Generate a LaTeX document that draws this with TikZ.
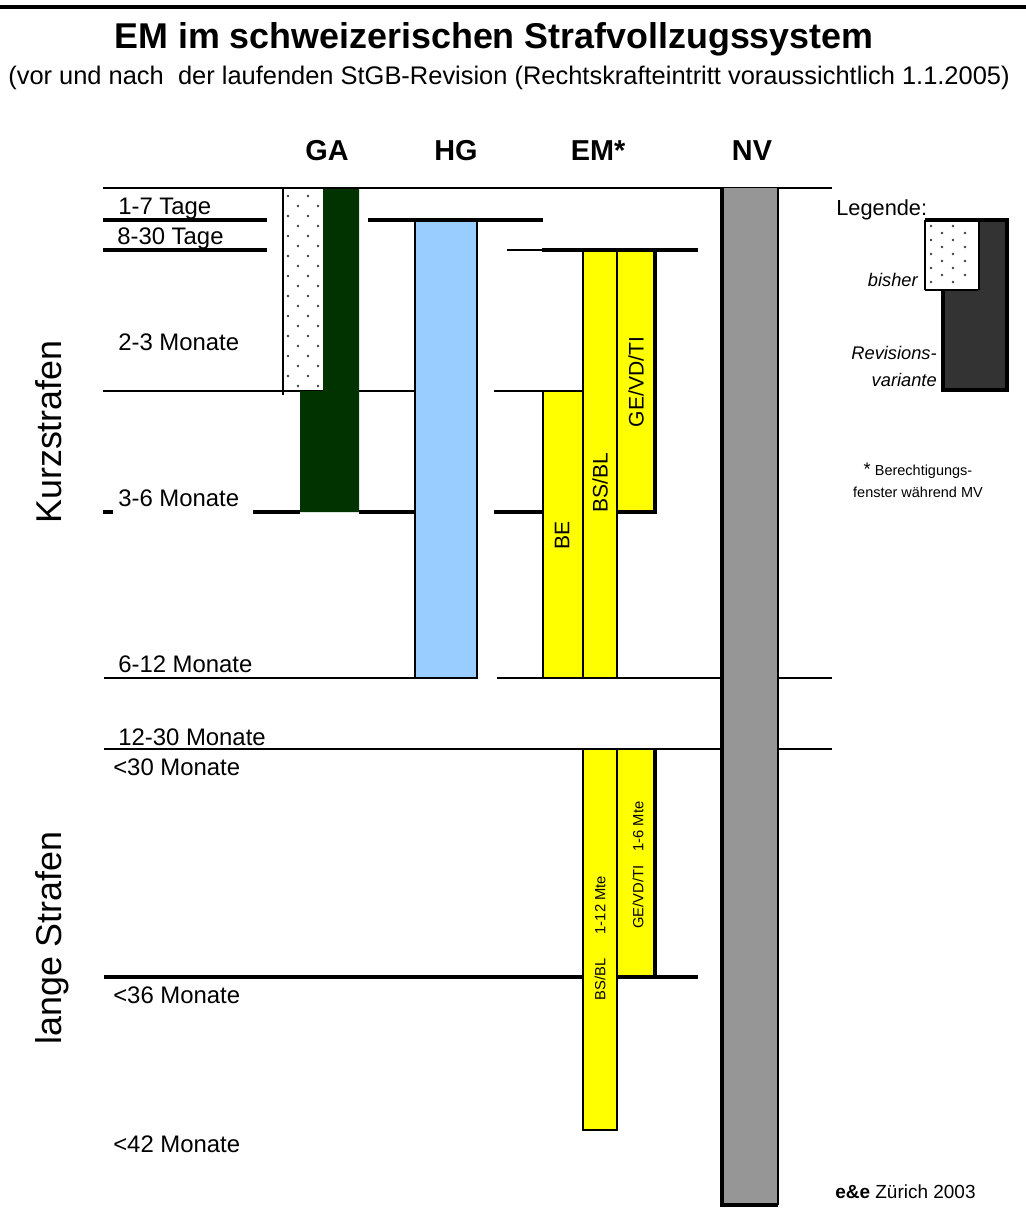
\documentclass[tikz,border=0pt]{standalone}
\usepackage{fontspec}
\setmainfont{Liberation Sans}
\usepackage{xcolor}
\usepackage{tikz}
\definecolor{gagruen}{RGB}{0,51,0}
\definecolor{hgblau}{RGB}{153,204,255}
\definecolor{emgelb}{RGB}{255,255,0}
\definecolor{nvgrau}{RGB}{150,150,150}
\definecolor{legdunkel}{RGB}{51,51,51}
\newcommand{\fsz}[1]{\fontsize{#1}{#1}\selectfont}

\begin{document}
\begin{tikzpicture}[x=0.25mm,y=-0.25mm,
  duenn/.style={line width=1.1pt},
  dick/.style={line width=2.6pt},
  saeule/.style={draw=black,line width=1.2pt},
  lbl/.style={anchor=base west,inner sep=0pt,font=\fsz{17pt}},
  kopf/.style={anchor=base,inner sep=0pt,font=\bfseries\fsz{20.5pt}},
  vert/.style={rotate=90,inner sep=0pt,font=\fsz{15pt}},
  vklein/.style={rotate=90,inner sep=0pt,font=\fsz{10.5pt}},
  leg/.style={anchor=base east,inner sep=0pt,font=\itshape\fsz{13pt}}]
  \useasboundingbox (0,0) rectangle (1026,1214);
  % kopf
  \draw[line width=2.2pt] (0,7)--(1026,7);
  \node[anchor=base,inner sep=0pt,font=\bfseries\fsz{25.5pt}] (titel) at (494,48) {EM im schweizerischen Strafvollzugssystem};
  \node[anchor=base,inner sep=0pt,font=\fsz{18.1pt}] (untertitel) at (509,84) {(vor und nach\ \ der laufenden StGB-Revision (Rechtskrafteintritt voraussichtlich 1.1.2005)};
  \node[kopf] (ga) at (327,160) {GA};
  \node[kopf] (hg) at (456,160) {HG};
  \node[kopf] (em) at (598,160) {EM*};
  \node[kopf] (nv) at (752,160) {NV};
  % GA
  \fill[white] (283,188) rectangle (323,391);
  \foreach \y in {196,216,...,386} {\fill[black!75] (288,\y) circle (1.3); \fill[black!75] (308,\y) circle (1.3);}
  \foreach \y in {206,226,...,386} {\fill[black!75] (298,\y) circle (1.3); \fill[black!75] (318,\y) circle (1.3);}
  \draw[duenn] (283,395)--(283,188) (283,391)--(323,391);
  \fill[gagruen] (323,188)--(359,188)--(359,512)--(300,512)--(300,391)--(323,391)--cycle;
  % HG
  \draw[saeule,fill=hgblau] (415,220) rectangle (477,678);
  % EM oben
  \draw[saeule,fill=emgelb] (543,391) rectangle (583,678);
  \draw[saeule,fill=emgelb] (583,250) rectangle (617,678);
  \draw[saeule,fill=emgelb] (617,250) rectangle (655,512);
  \draw[dick] (617,512)--(655,512)--(655,250);
  \node[vert] (be) at (562,535) {BE};
  \node[vert] (bsbl) at (600,483) {BS/BL};
  \node[vert] (gevdti) at (636,382) {GE/VD/TI};
  % EM unten
  \draw[saeule,fill=emgelb] (583,749) rectangle (617,1130);
  \draw[saeule,fill=emgelb] (617,749) rectangle (655,977);
  \draw[dick] (655,749)--(655,977);
  \node[vklein] (bsbl2) at (600,938) {BS/BL\hspace{6mm}1-12 Mte};
  \node[vklein] (gevdti2) at (638,865) {GE/VD/TI\hspace{3.5mm}1-6 Mte};
  % linien
  \draw[duenn] (103,188)--(832,188);
  \draw[dick] (103,220)--(267,220) (368,220)--(543,220);
  \draw[dick] (103,250)--(267,250) (542,250)--(698,250);
  \draw[duenn] (507,250)--(542,250);
  \draw[duenn] (103,391)--(283,391) (359,391)--(415,391) (494,391)--(583,391);
  \draw[dick] (103,512)--(113,512) (253,512)--(300,512) (359,512)--(415,512) (494,512)--(543,512);
  \draw[duenn] (104,678)--(477,678) (497,678)--(722,678) (778,678)--(832,678);
  \draw[duenn] (104,749)--(832,749);
  \draw[dick] (104,977)--(583,977) (617,977)--(698,977);
  % NV
  \fill[nvgrau] (722,188) rectangle (778,1205);
  \draw[line width=2.4pt] (722,188)--(722,1205)--(778,1205);
  \draw[line width=1.6pt] (778,1205)--(778,188);
  % dauer
  \node[lbl] (t17) at (118,214) {1-7 Tage};
  \node[lbl] (t830) at (117,244) {8-30 Tage};
  \node[lbl] (m23) at (118,350) {2-3 Monate};
  \node[lbl] (m36) at (118,506) {3-6 Monate};
  \node[lbl] (m612) at (118,672) {6-12 Monate};
  \node[lbl] (m1230) at (118,745) {12-30 Monate};
  \node[lbl] (m30) at (113,775) {<30 Monate};
  \node[lbl] (m36b) at (113,1003) {<36 Monate};
  \node[lbl] (m42) at (113,1152) {<42 Monate};
  \node[rotate=90,anchor=base,inner sep=0pt,font=\fsz{25.5pt}] (kurz) at (61,432) {Kurzstrafen};
  \node[rotate=90,anchor=base,inner sep=0pt,font=\fsz{25.5pt}] (lang) at (61,938) {lange Strafen};
  % legende
  \node[anchor=base west,inner sep=0pt,font=\fsz{15.5pt}] (legende) at (836,215) {Legende:};
  \fill[legdunkel] (978,220)--(1007,220)--(1007,390)--(943,390)--(943,290)--(978,290)--cycle;
  \draw[line width=2.2pt] (978,290)--(978,220)--(1007,220)--(1007,390)--(943,390)--(943,290);
  \fill[white] (925,220) rectangle (978,290);
  \foreach \y in {226,240,...,286} {\fill[black!75] (931,\y) circle (1.3); \fill[black!75] (953,\y) circle (1.3);}
  \foreach \y in {233,247,...,286} {\fill[black!75] (942,\y) circle (1.3); \fill[black!75] (965,\y) circle (1.3);}
  \draw[duenn] (925,290)--(925,220);
  \draw[line width=2.2pt] (925,220)--(978,220);
  \draw[duenn] (925,290)--(978,290);
  \node[leg] (bisher) at (918,286) {bisher};
  \node[leg] (rev) at (937,359) {Revisions-};
  \node[leg] (variante) at (937,386) {variante};
  \node[anchor=base,inner sep=0pt,font=\fsz{10.3pt}] (fenster1) at (918,475) {{\fsz{13pt}*}\ Berechtigungs-};
  \node[anchor=base,inner sep=0pt,font=\fsz{10.3pt}] (fenster2) at (918,497) {fenster während MV};
  \node[anchor=base west,inner sep=0pt,font=\fsz{13.5pt}] (quelle) at (835,1198) {\textbf{e\&e} Zürich 2003};
\end{tikzpicture}
\end{document}
